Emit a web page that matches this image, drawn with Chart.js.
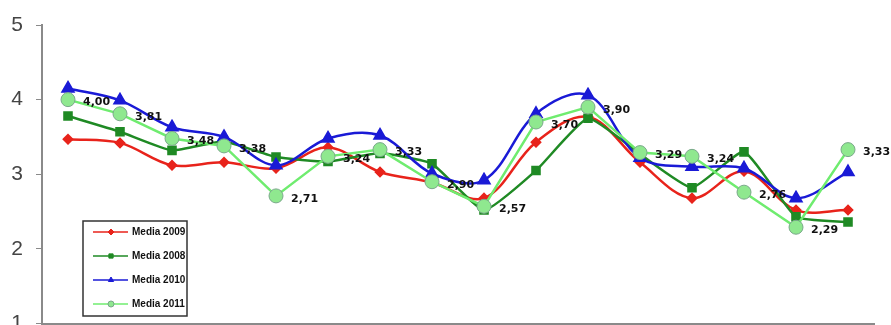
<!DOCTYPE html>
<html>
<head>
<meta charset="utf-8">
<script src="https://cdn.jsdelivr.net/npm/chart.js@4/dist/chart.umd.min.js"></script>
<style>
  html, body { margin: 0; padding: 0; background: #fff; overflow: hidden; }
  #wrap { width: 891px; height: 332px; position: relative; }
</style>
</head>
<body>
<div id="wrap"><canvas id="mediaChart"></canvas></div>
<script>
// Data
const categories = ['1', '2', '3', '4', '5', '6', '7', '8', '9', '10', '11', '12', '13', '14', '15', '16'];
const media2009 = [3.47, 3.42, 3.12, 3.16, 3.08, 3.36, 3.03, 2.89, 2.68, 3.43, 3.77, 3.16, 2.68, 3.04, 2.52, 2.52];
const media2008 = [3.78, 3.57, 3.32, 3.44, 3.23, 3.17, 3.28, 3.14, 2.52, 3.05, 3.75, 3.27, 2.82, 3.30, 2.43, 2.36];
const media2010 = [4.15, 3.99, 3.63, 3.50, 3.12, 3.48, 3.52, 3.01, 2.92, 3.81, 4.06, 3.22, 3.10, 3.08, 2.68, 3.03];
const media2011 = [4.00, 3.81, 3.48, 3.38, 2.71, 3.24, 3.33, 2.90, 2.57, 3.70, 3.90, 3.29, 3.24, 2.76, 2.29, 3.33];
const yTicks = [1, 2, 3, 4, 5];

const seriesNames = ['Media 2009', 'Media 2008', 'Media 2010', 'Media 2011'];

// Value labels next to the 2011 points
const valueLabels = {
    id: 'valueLabels',
    afterDatasetsDraw(chart) {
        const c = chart.ctx;
        const meta = chart.getDatasetMeta(3);
        c.save();
        c.font = 'bold 11px "DejaVu Sans"';
        c.fillStyle = '#111';
        c.textBaseline = 'middle';
        c.textAlign = 'left';
        meta.data.forEach((pt, i) => {
            const txt = media2011[i].toFixed(2).replace('.', ',');
            c.fillText(txt, pt.x + 15, pt.y + 3);
        });
        c.restore();
    }
};

// Legend box inside the plot area
const boxLegend = {
    id: 'boxLegend',
    afterDraw(chart) {
        const c = chart.ctx;
        const x0 = 83, y0 = 221, w = 104, h = 95;
        c.save();
        c.fillStyle = '#fff';
        c.fillRect(x0, y0, w, h);
        c.strokeStyle = '#333';
        c.lineWidth = 1.5;
        c.strokeRect(x0, y0, w, h);
        [0, 1, 2, 3].forEach((idx, r) => {
            const ds = chart.data.datasets[idx];
            const y = y0 + 11 + r * 24;
            c.strokeStyle = ds.borderColor;
            c.lineWidth = 1.5;
            c.beginPath();
            c.moveTo(x0 + 10, y);
            c.lineTo(x0 + 45, y);
            c.stroke();
            c.fillStyle = ds.pointBackgroundColor;
            c.strokeStyle = ds.pointBorderColor;
            c.lineWidth = 1;
            Chart.helpers.drawPoint(c, {
                pointStyle: ds.pointStyle,
                radius: 3,
                borderWidth: 1
            }, x0 + 28, y);
            c.fillStyle = '#111';
            c.font = 'bold 10px "Liberation Sans"';
            c.textBaseline = 'middle';
            c.fillText(seriesNames[idx], x0 + 49, y);
        });
        c.restore();
    }
};

const ctx = document.getElementById('mediaChart').getContext('2d');

const mediaChart = new Chart(ctx, {
    type: 'line',
    data: {
        labels: categories,
        datasets: [{
            label: seriesNames[0],
            data: media2009,
            borderColor: '#e8231b',
            pointBackgroundColor: '#e8231b',
            pointBorderColor: '#e8231b',
            pointStyle: 'rectRot',
            pointRadius: 4,
            borderWidth: 2.5,
            tension: 0.35,
            order: 3
        }, {
            label: seriesNames[1],
            data: media2008,
            borderColor: '#1f8a24',
            pointBackgroundColor: '#1f8a24',
            pointBorderColor: '#1f8a24',
            pointStyle: 'rect',
            pointRadius: 5,
            borderWidth: 2.5,
            tension: 0.15,
            order: 2
        }, {
            label: seriesNames[2],
            data: media2010,
            borderColor: '#1a1ad6',
            pointBackgroundColor: '#1a1ad6',
            pointBorderColor: '#1a1ad6',
            pointStyle: 'triangle',
            pointRadius: 6,
            borderWidth: 2.5,
            tension: 0.35,
            order: 1
        }, {
            label: seriesNames[3],
            data: media2011,
            borderColor: '#6fec6f',
            pointBackgroundColor: '#8fe88f',
            pointBorderColor: '#7aa88a',
            pointStyle: 'circle',
            pointRadius: 7,
            pointBorderWidth: 1,
            borderWidth: 2.5,
            tension: 0,
            order: 0
        }]
    },
    options: {
        responsive: true,
        maintainAspectRatio: false,
        animation: false,
        layout: {
            padding: { top: 25, right: 17, bottom: 0, left: 0 }
        },
        plugins: {
            legend: { display: false },
            tooltip: { enabled: false }
        },
        scales: {
            x: {
                offset: true,
                grid: { display: false },
                ticks: { display: false },
                border: { display: true, color: '#8a8a8a', width: 2 },
                afterFit: function(axis) {
                    axis.height = 0;
                    axis.paddingLeft = 0;
                    axis.paddingRight = 0;
                }
            },
            y: {
                min: 1,
                max: 5,
                afterBuildTicks: function(axis) {
                    axis.ticks = yTicks.map(v => ({ value: v }));
                },
                grid: {
                    drawOnChartArea: false,
                    drawTicks: true,
                    tickLength: 6,
                    color: '#8a8a8a'
                },
                border: { display: true, color: '#8a8a8a', width: 2 },
                ticks: {
                    padding: 13,
                    color: '#444',
                    font: { family: 'Liberation Sans', size: 21 }
                },
                afterFit: function(axis) {
                    axis.width = 42;
                    axis.paddingTop = 0;
                    axis.paddingBottom = 0;
                }
            }
        }
    },
    plugins: [valueLabels, boxLegend]
});
</script>
</body>
</html>
